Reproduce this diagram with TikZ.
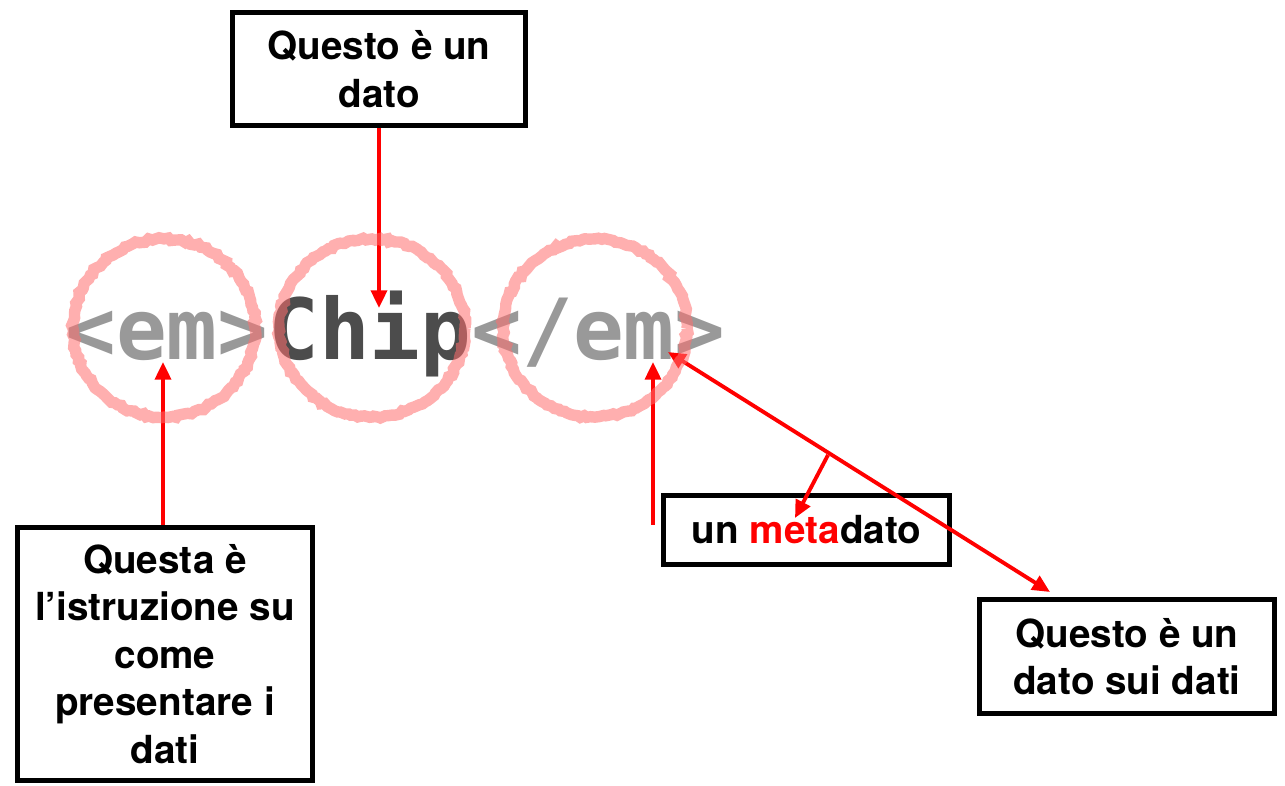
\documentclass[tikz,border=0pt]{standalone}
\usepackage{fontspec}
\setmainfont{TeX Gyre Heros}
\setmonofont{DejaVu Sans Mono}
\usetikzlibrary{arrows.meta,decorations.pathmorphing}
\tikzset{
  box/.style={draw, line width=2.8pt, align=center, inner sep=0pt,
    font=\fontsize{22}{27}\selectfont\bfseries},
  redarrow/.style={draw=red, line width=2.2pt, -{Triangle[length=10pt,width=9pt]}},
  ring/.style={draw={rgb,255:red,255;green,110;blue,110}, opacity=0.55, line width=6.5pt,
    decorate, decoration={random steps, segment length=2pt, amplitude=0.8pt}}
}
\definecolor{taggray}{gray}{0.6}
\definecolor{chipgray}{gray}{0.3}
\begin{document}
\begin{tikzpicture}[x=0.02cm, y=-0.02cm]
  \useasboundingbox (0,0) rectangle (1285,786);
  % the tagged word
  \node[anchor=base west, inner sep=0pt, font=\fontsize{48}{48}\ttfamily\bfseries] (code) at (65,360)
    {\textcolor{taggray}{<em>}\textcolor{chipgray}{Chip}\textcolor{taggray}{</em>}};
  % boxes
  \node[box, minimum width=5.86cm, minimum height=2.26cm] (dato) at (379,69)
    {Questo è un\\dato};
  \node[box, minimum width=5.9cm, minimum height=5.06cm] (istr) at (165,654)
    {Questa è\\l’istruzione su\\come\\presentare i\\dati};
  \node[box, minimum width=5.72cm, minimum height=1.38cm] (meta) at (806.5,530)
    {un \textcolor{red}{meta}dato};
  \node[box, minimum width=5.9cm, minimum height=2.28cm] (sui) at (1127,656.5)
    {Questo è un\\dato sui dati};
  % points on the code
  \coordinate (chipTop) at (379,308);
  \coordinate (emOpen) at (163,362);
  \coordinate (emClose) at (653,362);
  \coordinate (emEnd) at (668,352);
  \coordinate (metaFoot) at (653,525);
  \coordinate (fork) at (828,455);
  \coordinate (metaIn) at (795,518);
  \coordinate (suiTop) at (1050,592);
  % arrows
  \draw[redarrow] (dato.south -| chipTop) -- (chipTop);
  \draw[redarrow] (istr.north -| emOpen) -- (emOpen);
  \draw[redarrow] (metaFoot) -- (emClose);
  \draw[redarrow, {Triangle[length=10pt,width=9pt]}-{Triangle[length=10pt,width=9pt]}] (emEnd) -- (suiTop);
  \draw[redarrow] (fork) -- (metaIn);
  % rings
  \draw[ring] (164,328) ellipse (91 and 89);
  \draw[ring] (372,328) ellipse (93 and 89);
  \draw[ring] (595,328) ellipse (92 and 89);
\end{tikzpicture}
\end{document}
